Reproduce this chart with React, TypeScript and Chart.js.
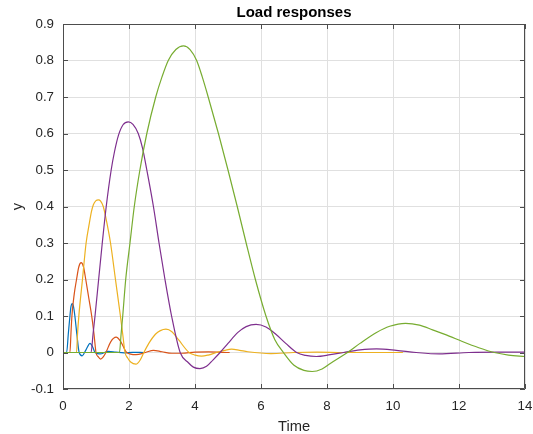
import React, { useEffect, useRef } from "react";
import { Chart, registerables } from "chart.js";

Chart.register(...registerables);

const titleText = "Load responses";
const xLabel = "Time";
const yLabel = "y";
const xTicks = [0, 2, 4, 6, 8, 10, 12, 14];
const yTicks = [-0.1, 0, 0.1, 0.2, 0.3, 0.4, 0.5, 0.6, 0.7, 0.8, 0.9];

const blueT = [0, 0.11, 0.16, 0.21, 0.24, 0.28, 0.32, 0.36, 0.42, 0.49, 0.58, 0.7, 0.82, 0.9, 0.97, 1.12, 1.37, 1.6, 1.85, 2.1, 2.45];
const blueY = [0, 0, 0.05, 0.1, 0.125, 0.134, 0.125, 0.1, 0.05, 0, -0.009, 0.008, 0.025, 0.015, 0, -0.004, 0.003, 0.001, -0.001, 0.0005, 0];

const redT = [0, 0.21, 0.24, 0.27, 0.34, 0.41, 0.48, 0.55, 0.62, 0.69, 0.78, 0.87, 0.94, 1.0, 1.07, 1.14, 1.22, 1.3, 1.45, 1.61, 1.75, 1.93, 2.21, 2.5, 2.74, 3.0, 3.3, 3.6, 4.0, 4.4, 5.05];
const redY = [0, 0, 0.05, 0.1, 0.16, 0.2, 0.235, 0.246, 0.235, 0.2, 0.15, 0.1, 0.05, 0, -0.012, -0.018, -0.012, 0, 0.03, 0.042, 0.03, 0, -0.006, 0, 0.006, 0.002, -0.002, -0.002, 0.001, 0.0015, 0];

const yellowT = [0, 0.41, 0.44, 0.48, 0.59, 0.7, 0.8, 0.86, 0.92, 1.0, 1.07, 1.14, 1.22, 1.33, 1.44, 1.59, 1.74, 1.81, 1.88, 1.96, 2.05, 2.21, 2.33, 2.45, 2.6, 2.8, 2.95, 3.12, 3.3, 3.5, 3.82, 4.0, 4.2, 4.4, 4.65, 4.9, 5.11, 5.35, 5.6, 6.3, 7.0, 7.7, 8.5, 9.3, 10.3];
const yellowY = [0, 0, 0.05, 0.1, 0.2, 0.3, 0.355, 0.385, 0.405, 0.416, 0.418, 0.415, 0.4, 0.355, 0.3, 0.2, 0.1, 0.05, 0, -0.015, -0.026, -0.032, -0.022, 0, 0.025, 0.05, 0.06, 0.064, 0.057, 0.035, 0, -0.007, -0.01, -0.007, 0, 0.006, 0.009, 0.006, 0.002, -0.003, 0, 0.001, 0, 0, 0];

const purpleT = [0, 0.85, 0.91, 0.97, 1.08, 1.19, 1.31, 1.46, 1.56, 1.68, 1.82, 1.98, 2.12, 2.28, 2.41, 2.54, 2.74, 2.91, 3.09, 3.29, 3.55, 3.8, 3.95, 4.15, 4.35, 4.55, 4.76, 5.0, 5.3, 5.55, 5.85, 6.15, 6.45, 6.75, 7.08, 7.35, 7.68, 8.1, 8.5, 9.0, 9.5, 10.1, 10.7, 11.4, 12.3, 13.2, 14];
const purpleY = [0, 0, 0.05, 0.1, 0.2, 0.3, 0.4, 0.5, 0.55, 0.595, 0.624, 0.632, 0.625, 0.6, 0.56, 0.5, 0.4, 0.3, 0.2, 0.1, 0, -0.028, -0.04, -0.044, -0.038, -0.02, 0, 0.025, 0.055, 0.071, 0.077, 0.07, 0.05, 0.025, 0, -0.008, -0.011, -0.006, 0, 0.007, 0.01, 0.006, 0, -0.004, 0, 0.001, 0.001];

const greenT = [0, 1.71, 1.76, 1.81, 1.9, 2.03, 2.16, 2.33, 2.54, 2.81, 3.0, 3.19, 3.42, 3.65, 3.85, 4.05, 4.22, 4.4, 4.71, 5.0, 5.28, 5.55, 5.83, 6.15, 6.42, 6.68, 7.0, 7.3, 7.55, 7.85, 8.1, 8.62, 9.0, 9.5, 9.9, 10.38, 10.8, 11.2, 11.7, 12.1, 12.6, 13.07, 13.5, 14];
const greenY = [0, 0, 0.05, 0.1, 0.2, 0.3, 0.4, 0.5, 0.6, 0.7, 0.755, 0.8, 0.83, 0.84, 0.83, 0.8, 0.755, 0.7, 0.6, 0.5, 0.4, 0.3, 0.2, 0.1, 0.035, 0, -0.035, -0.049, -0.052, -0.045, -0.03, 0, 0.025, 0.055, 0.072, 0.08, 0.075, 0.062, 0.045, 0.03, 0.013, 0, -0.007, -0.011];

const seriesColors = ["#0072BD", "#D95319", "#EDB120", "#7E2F8E", "#77AC30"];

const FONT = "'Liberation Sans', Arial, Helvetica, sans-serif";

function pts(t: number[], y: number[]) {
  return t.map((x, i) => ({ x, y: y[i] }));
}

const framePlugin = {
  id: "matlabFrame",
  afterDraw(chart: any) {
    const { ctx, chartArea } = chart;
    const { left, right, top, bottom } = chartArea;
    const xs = chart.scales.x;
    const ys = chart.scales.y;
    ctx.save();
    ctx.strokeStyle = "#4d4d4d";
    ctx.lineWidth = 1;
    ctx.beginPath();
    ctx.rect(Math.round(left) + 0.5, Math.round(top) + 0.5, Math.round(right - left) - 1, Math.round(bottom - top) - 1);
    ctx.stroke();
    const tl = 5;
    ctx.beginPath();
    xTicks.forEach((v) => {
      const px = Math.round(xs.getPixelForValue(v)) + 0.5;
      ctx.moveTo(px, bottom);
      ctx.lineTo(px, bottom - tl);
      ctx.moveTo(px, top);
      ctx.lineTo(px, top + tl);
    });
    yTicks.forEach((v) => {
      const py = Math.round(ys.getPixelForValue(v)) + 0.5;
      ctx.moveTo(left, py);
      ctx.lineTo(left + tl, py);
      ctx.moveTo(right, py);
      ctx.lineTo(right - tl, py);
    });
    ctx.stroke();

    ctx.fillStyle = "#000000";
    ctx.font = `bold 15px ${FONT}`;
    ctx.textAlign = "center";
    ctx.textBaseline = "alphabetic";
    ctx.fillText(titleText, (left + right) / 2, 17);

    ctx.fillStyle = "#262626";
    ctx.font = `14.7px ${FONT}`;
    ctx.fillText(xLabel, (left + right) / 2, 431);

    ctx.save();
    ctx.translate(22, (top + bottom) / 2);
    ctx.rotate(-Math.PI / 2);
    ctx.fillText(yLabel, 0, 0);
    ctx.restore();
    ctx.restore();
  },
};

export default function App() {
  const ref = useRef<HTMLCanvasElement>(null);
  useEffect(() => {
    document.body.style.margin = "0";
    const canvas = ref.current!;
    const mk = (label: string, t: number[], y: number[], idx: number, order: number) => ({
      label,
      data: pts(t, y),
      borderColor: seriesColors[idx],
      backgroundColor: seriesColors[idx],
      borderWidth: 1.2,
      pointRadius: 0,
      fill: false,
      cubicInterpolationMode: "monotone" as const,
      order,
    });
    const chart = new Chart(canvas, {
      type: "line",
      data: {
        datasets: [
          mk("1", blueT, blueY, 0, 4),
          mk("2", redT, redY, 1, 3),
          mk("3", yellowT, yellowY, 2, 2),
          mk("4", purpleT, purpleY, 3, 1),
          mk("5", greenT, greenY, 4, 0),
        ],
      },
      options: {
        responsive: false,
        animation: false,
        events: [],
        layout: { padding: { top: 24, right: 8, left: 0, bottom: 0 } },
        plugins: {
          legend: { display: false },
          tooltip: { enabled: false },
          title: { display: false },
        },
        scales: {
          x: {
            type: "linear",
            min: 0,
            max: 14,
            afterBuildTicks: (s: any) => {
              s.ticks = xTicks.map((v) => ({ value: v }));
            },
            afterFit: (s: any) => {
              s.height = 45;
              s.paddingLeft = 0;
              s.paddingRight = 0;
            },
            ticks: {
              autoSkip: false,
              maxRotation: 0,
              padding: 9,
              color: "#262626",
              font: { family: FONT, size: 13.3 },
              callback: (v: any) => String(v),
            },
            grid: { color: "#e0e0e0", lineWidth: 1, drawTicks: false },
            border: { display: false },
          },
          y: {
            type: "linear",
            min: -0.1,
            max: 0.9,
            afterBuildTicks: (s: any) => {
              s.ticks = yTicks.map((v) => ({ value: v }));
            },
            afterFit: (s: any) => {
              s.width = 63;
              s.paddingTop = 0;
              s.paddingBottom = 0;
            },
            ticks: {
              autoSkip: false,
              padding: 9,
              color: "#262626",
              font: { family: FONT, size: 13.3 },
              callback: (v: any) => {
                const r = Math.round(v * 10) / 10;
                return Math.abs(r) < 1e-9 ? "0" : String(r);
              },
            },
            grid: { color: "#e0e0e0", lineWidth: 1, drawTicks: false },
            border: { display: false },
          },
        },
      },
      plugins: [framePlugin],
    });
    return () => chart.destroy();
  }, []);
  return <canvas ref={ref} width={533} height={434} style={{ display: "block" }} />;
}
